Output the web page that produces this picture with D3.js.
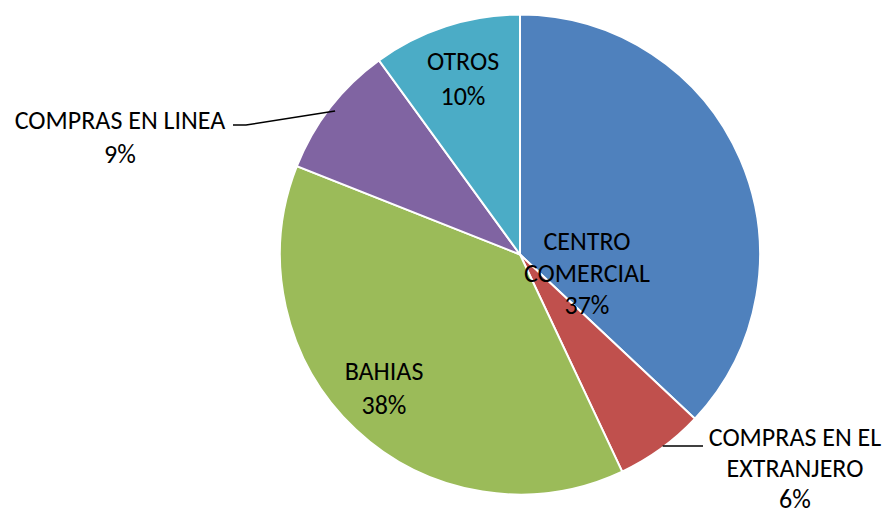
<!DOCTYPE html>
<html>
<head>
<meta charset="utf-8">
<script src="https://cdn.jsdelivr.net/npm/d3@7"></script>
<style>
  body { margin: 0; background: #fff; }
  text { font-family: Carlito, Lato, "Open Sans", sans-serif; font-size: 26px; fill: #000; }
</style>
</head>
<body>
<svg width="885" height="517"></svg>
<script>
var categories = ["CENTRO COMERCIAL", "COMPRAS EN EL EXTRANJERO", "BAHIAS", "COMPRAS EN LINEA", "OTROS"];
var values = [37, 6, 38, 9, 10];
var colors = ["#4F81BD", "#C0504D", "#9BBB59", "#8064A2", "#4BACC6"];
// label lines as drawn, and where each label block sits (center x, first baseline)
var labelLines = [["CENTRO", "COMERCIAL", "37%"], ["COMPRAS EN EL", "EXTRANJERO", "6%"], ["BAHIAS", "38%"], ["COMPRAS EN LINEA", "9%"], ["OTROS", "10%"]];
var labelPos = [[587, 250], [795, 446], [384, 380], [120, 129], [463, 70]];
var lineHeight = [32, 31, 34, 34, 35];

(function() {
    var svg = d3.select("svg");
    var cx = 520, cy = 254.5, r = 240;

    var pie = d3.pie().sort(null).value(function(d) { return d; });
    var arc = d3.arc().innerRadius(0).outerRadius(r);
    var arcs = pie(values);

    var g = svg.append("g").attr("transform", "translate(" + cx + "," + cy + ")");

    g.selectAll("path")
        .data(arcs)
        .enter().append("path")
        .attr("d", arc)
        .style("fill", function(d, i) { return colors[i]; })
        .style("stroke", "#fff")
        .style("stroke-width", 2);

    // leader lines for the outside labels
    var ly = 446;
    var edgeX = cx + Math.sqrt(r * r - (ly - cy) * (ly - cy));
    svg.append("path")
        .attr("d", d3.line()([[edgeX - 2, ly], [703, ly]]))
        .style("fill", "none").style("stroke", "#000").style("stroke-width", 1.5);

    var onEdge = d3.arc().innerRadius(r - 6).outerRadius(r - 6);
    var li = onEdge.centroid(arcs[3]);
    var p3 = [cx + li[0], cy + li[1]];
    svg.append("path")
        .attr("d", d3.line()([[233, 125], [246, 125], [p3[0], p3[1]]]))
        .style("fill", "none").style("stroke", "#000").style("stroke-width", 1.5);

    labelLines.forEach(function(lines, i) {
        var t = svg.append("text")
            .attr("text-anchor", "middle")
            .attr("x", labelPos[i][0])
            .attr("y", labelPos[i][1]);
        lines.forEach(function(s, j) {
            t.append("tspan")
                .attr("x", labelPos[i][0])
                .attr("dy", j === 0 ? 0 : lineHeight[i])
                .text(s);
        });
    });
})();
</script>
</body>
</html>
